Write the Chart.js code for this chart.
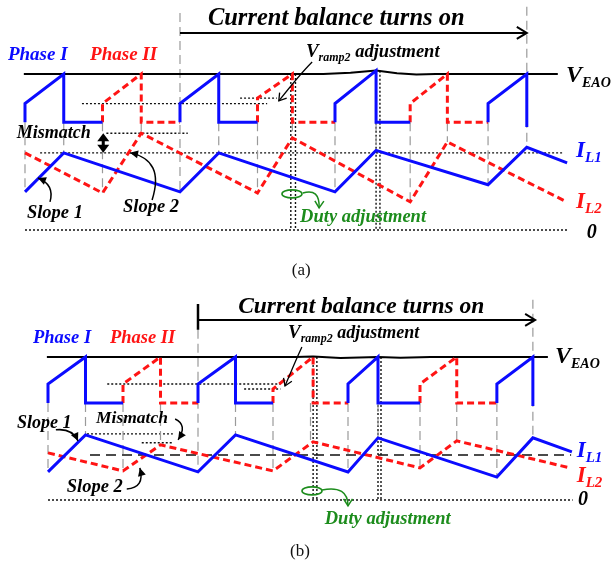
<!DOCTYPE html>
<html>
<head>
<meta charset="utf-8">
<script src="https://cdn.jsdelivr.net/npm/chart.js@4.4.1/dist/chart.umd.min.js"></script>
<style>
  body { margin: 0; background: #fff; }
  canvas { position: absolute; left: 0; }
  #panelA { top: 0; }
  #panelB { top: 285px; }
</style>
</head>
<body>
<canvas id="panelA" width="615" height="285"></canvas>
<canvas id="panelB" width="615" height="285"></canvas>
<script>
// Time axis: quarter switching periods. Levels normalised so V_EAO = 1.
// Points are [t, level]; null breaks the trace.

// ---- (a) duty adjustment only ----
const aVeao = [[-0.03, 1], [7.7, 1], [8.4, 1.008], [9.06, 1.022], [9.6, 1.004], [10.1, 0.996], [10.6, 1], [13.75, 1]];
const aRamp1 = [[0, 0.69], [0, 0.81], [1, 1], [1, 0.69], [2, 0.69], null,
  [4, 0.69], [4, 0.81], [5, 1], [5, 0.69], [6, 0.69], null,
  [8, 0.69], [8, 0.81], [9.06, 1.022], [9.06, 0.69], [9.94, 0.69], null,
  [11.95, 0.69], [11.95, 0.81], [12.95, 1], [12.95, 0.66]];
const aRamp2 = [[2, 0.69], [2, 0.81], [3, 1], [3, 0.69], [4, 0.69], null,
  [6, 0.69], [6, 0.845], [6.9, 1], [6.9, 0.69], [8, 0.69], null,
  [9.94, 0.69], [9.94, 0.81], [10.9, 1], [10.9, 0.69], [11.95, 0.69]];
const aIL1 = [[0, 0.244], [1, 0.494], [4, 0.244], [5, 0.494], [8, 0.244], [9.06, 0.51], [11.95, 0.29], [12.95, 0.53], [13.99, 0.43]];
const aIL2 = [[0, 0.494], [2, 0.237], [3, 0.62], [6, 0.237], [6.9, 0.59], [9.94, 0.18], [10.9, 0.564], [13.9, 0.19]];
// switching edges: [t, from, to]
const aEdges = [[0, 0.69, 0.244], [1, 0.69, 0.494], [2, 0.69, 0.237], [3, 0.69, 0.62], [4, 1.39, 0.244],
  [5, 0.69, 0.494], [6, 0.69, 0.237], [6.9, 0.69, 0.59], [8, 0.69, 0.244], [9.06, 0.69, 0.51],
  [9.94, 0.69, 0.18], [10.9, 0.69, 0.564], [11.95, 0.69, 0.29], [12.95, 1.43, 0.53]];
// dotted levels: [level, t0, t1]
const aLevels = [[0.81, 1.47, 6.25], [0.845, 5.55, 6.5], [0.62, 2.1, 4.2], [0.494, 0.39, 13.9], [0, 0, 13.99]];
// dotted duty markers: [t, from, to]
const aMarks = [[6.86, 1, 0], [6.98, 1, 0], [9.06, 1.02, 0], [9.16, 1.02, 0]];

// ---- (b) duty + ramp adjustment ----
const bVeao = [[-0.03, 1], [6.6, 1], [7.07, 1.003], [7.8, 0.993], [8.8, 1], [9.4, 0.995], [10.2, 1], [13.33, 1]];
const bRamp1 = [[0, 0.678], [0, 0.811], [1, 1], [1, 0.678], [2, 0.678], null,
  [4, 0.678], [4, 0.811], [5, 1], [5, 0.678], [6, 0.678], null,
  [8, 0.678], [8, 0.811], [8.8, 1], [8.8, 0.678], [9.92, 0.678], null,
  [11.97, 0.678], [11.97, 0.811], [12.93, 1], [12.93, 0.657]];
const bRamp2 = [[2, 0.678], [2, 0.811], [3, 1], [3, 0.678], [4, 0.678], null,
  [6, 0.678], [6, 0.776], [7.07, 1], [7.07, 0.678], [8, 0.678], null,
  [9.92, 0.678], [9.92, 0.811], [10.9, 1], [10.9, 0.678], [11.97, 0.678]];
const bIL1 = [[0, 0.196], [1, 0.455], [4, 0.196], [5, 0.455], [8, 0.196], [8.8, 0.434], [11.97, 0.16], [12.93, 0.434], [13.97, 0.336]];
const bIL2 = [[0, 0.329], [2, 0.203], [3, 0.385], [6, 0.203], [7.07, 0.406], [9.92, 0.224], [10.9, 0.413], [13.92, 0.224]];
const bEdges = [[0, 0.678, 0.196], [1, 0.678, 0.455], [2, 0.678, 0.203], [3, 0.678, 0.385], [4, 1.19, 0.196],
  [5, 0.678, 0.455], [6, 0.678, 0.203], [7.0, 0.678, 0.406], [8, 0.678, 0.196], [8.8, 0.678, 0.434],
  [9.92, 0.678, 0.224], [10.9, 0.678, 0.413], [11.97, 0.678, 0.16], [12.93, 1.4, 0.434]];
const bLevels = [[0.811, 1.58, 6.2], [0.776, 5.23, 6.2], [0.462, 1.04, 3.33], [0.40, 2.5, 3.33], [0, 0, 13.99]];
const bAverage = [[0.315, 1.12, 13.95]];
const bMarks = [[7.07, 1, 0], [7.17, 1, 0], [8.8, 1, 0], [8.88, 1, 0]];

const BLUE = '#0b0bff';
const RED = '#ff1414';
const GREEN = '#1c8c1c';
const SERIF = '"Liberation Serif", "DejaVu Serif", serif';

function pts(list) {
    let lastT = 0;
    return list.map(p => {
        if (p === null) return { x: lastT, y: null };
        lastT = p[0];
        return { x: p[0], y: p[1] };
    });
}

function verticals(list) {
    const out = [];
    list.forEach(v => out.push([v[0], v[1]], [v[0], v[2]], null));
    return out;
}

function horizontals(list) {
    const out = [];
    list.forEach(h => out.push([h[1], h[0]], [h[2], h[0]], null));
    return out;
}

function trace(list, color, width, dash) {
    return {
        data: pts(list),
        borderColor: color,
        borderWidth: width,
        borderDash: dash,
        borderJoinStyle: 'miter',
        pointRadius: 0,
        fill: false,
        tension: 0,
        spanGaps: false
    };
}

// ---- annotation helpers ----
function label(ctx, p, parts, color, plain) {
    let x = p[0];
    ctx.fillStyle = color;
    ctx.textBaseline = 'alphabetic';
    ctx.textAlign = 'left';
    parts.forEach(([s, size, dy]) => {
        ctx.font = (plain ? '' : 'italic bold ') + size + 'px ' + SERIF;
        ctx.fillText(s, x, p[1] + (dy || 0));
        x += ctx.measureText(s).width;
    });
}

function caption(ctx, p, s) {
    ctx.fillStyle = '#111';
    ctx.font = '17px ' + SERIF;
    ctx.textAlign = 'center';
    ctx.textBaseline = 'alphabetic';
    ctx.fillText(s, p[0], p[1]);
}

function head(ctx, from, tip, len, half, filled) {
    const a = Math.atan2(tip[1] - from[1], tip[0] - from[0]);
    const c = Math.cos(a), s = Math.sin(a);
    ctx.beginPath();
    ctx.moveTo(tip[0] - len * c + half * s, tip[1] - len * s - half * c);
    ctx.lineTo(tip[0], tip[1]);
    ctx.lineTo(tip[0] - len * c - half * s, tip[1] - len * s + half * c);
    if (filled) {
        ctx.closePath();
        ctx.fill();
    } else {
        ctx.stroke();
    }
}

function curveArrow(ctx, a, c, b, color, width, filled) {
    ctx.save();
    ctx.setLineDash([]);
    ctx.strokeStyle = color;
    ctx.fillStyle = color;
    ctx.lineWidth = width;
    ctx.beginPath();
    ctx.moveTo(a[0], a[1]);
    ctx.quadraticCurveTo(c[0], c[1], b[0], b[1]);
    ctx.stroke();
    head(ctx, c, b, filled ? 8 : 7, filled ? 4 : 4.5, filled);
    ctx.restore();
}

function straightArrow(ctx, a, b, width) {
    ctx.save();
    ctx.setLineDash([]);
    ctx.strokeStyle = '#000';
    ctx.lineWidth = width;
    ctx.beginPath();
    ctx.moveTo(a[0], a[1]);
    ctx.lineTo(b[0], b[1]);
    ctx.stroke();
    head(ctx, a, b, 10, 6, false);
    ctx.restore();
}

function doubleArrow(ctx, a, b) {
    ctx.save();
    ctx.setLineDash([]);
    ctx.strokeStyle = '#000';
    ctx.fillStyle = '#000';
    ctx.lineWidth = 3;
    ctx.beginPath();
    ctx.moveTo(a[0], a[1] + 5);
    ctx.lineTo(b[0], b[1] - 5);
    ctx.stroke();
    head(ctx, b, a, 8, 6, true);
    head(ctx, a, b, 8, 6, true);
    ctx.restore();
}

function ring(ctx, p, rx, ry) {
    ctx.save();
    ctx.setLineDash([]);
    ctx.strokeStyle = GREEN;
    ctx.lineWidth = 1.6;
    ctx.beginPath();
    ctx.ellipse(p[0], p[1], rx, ry, 0, 0, Math.PI * 2);
    ctx.stroke();
    ctx.restore();
}

function bar(ctx, a, b) {
    ctx.save();
    ctx.setLineDash([]);
    ctx.strokeStyle = '#000';
    ctx.lineWidth = 2.5;
    ctx.beginPath();
    ctx.moveTo(a[0], a[1]);
    ctx.lineTo(b[0], b[1]);
    ctx.stroke();
    ctx.restore();
}

function notesA(ctx, P) {
    label(ctx, P(4.72, 1.314), [['Current balance turns on', 24.5]], '#000');
    straightArrow(ctx, P(4, 1.263), P(12.95, 1.263), 2);
    label(ctx, P(-0.44, 1.09), [['Phase I', 19]], BLUE);
    label(ctx, P(1.68, 1.09), [['Phase II', 19]], RED);
    label(ctx, P(13.96, 0.949), [['V', 24], ['EAO', 14, 5]], '#000');
    label(ctx, P(7.25, 1.109), [['V', 19], ['ramp2', 12, 4], [' adjustment', 18.5]], '#000');
    curveArrow(ctx, P(7.41, 1.077), P(7.1, 1.0), P(6.55, 0.827), '#000', 1.3, false);
    label(ctx, P(14.22, 0.468), [['I', 23], ['L1', 15, 5]], BLUE);
    label(ctx, P(14.22, 0.141), [['I', 23], ['L2', 15, 5]], RED);
    label(ctx, P(14.5, -0.051), [['0', 20]], '#000');
    label(ctx, P(-0.21, 0.59), [['Mismatch', 18]], '#000');
    doubleArrow(ctx, P(2.02, 0.62), P(2.02, 0.494));
    label(ctx, P(0.05, 0.077), [['Slope 1', 18.5]], '#000');
    label(ctx, P(2.53, 0.115), [['Slope 2', 18.5]], '#000');
    curveArrow(ctx, P(0.645, 0.18), P(0.77, 0.29), P(0.335, 0.333), '#000', 1.5, true);
    curveArrow(ctx, P(3.28, 0.192), P(3.61, 0.449), P(2.71, 0.494), '#000', 1.5, true);
    ring(ctx, P(6.89, 0.231), 10, 4);
    curveArrow(ctx, P(7.17, 0.237), P(7.61, 0.27), P(7.59, 0.141), GREEN, 1.5, false);
    label(ctx, P(7.1, 0.051), [['Duty adjustment', 18.5]], GREEN);
    caption(ctx, P(7.13, -0.29), '(a)');
}

function notesB(ctx, P) {
    bar(ctx, P(4, 1.37), P(4, 1.19));
    label(ctx, P(5.07, 1.308), [['Current balance turns on', 23.5]], '#000');
    straightArrow(ctx, P(4, 1.259), P(12.99, 1.259), 2);
    label(ctx, P(-0.4, 1.098), [['Phase I', 18.5]], BLUE);
    label(ctx, P(1.65, 1.098), [['Phase II', 18.5]], RED);
    label(ctx, P(13.52, 0.958), [['V', 24], ['EAO', 14, 5]], '#000');
    label(ctx, P(6.4, 1.133), [['V', 19], ['ramp2', 12, 4], [' adjustment', 18]], '#000');
    curveArrow(ctx, P(6.77, 1.07), P(6.61, 0.979), P(6.32, 0.797), '#000', 1.3, false);
    label(ctx, P(14.1, 0.30), [['I', 23], ['L1', 15, 5]], BLUE);
    label(ctx, P(14.1, 0.126), [['I', 23], ['L2', 15, 5]], RED);
    label(ctx, P(14.13, -0.035), [['0', 20]], '#000');
    label(ctx, P(1.28, 0.538), [['Mismatch', 17.5]], '#000');
    curveArrow(ctx, P(3.39, 0.566), P(3.73, 0.524), P(3.47, 0.42), '#000', 1.5, true);
    label(ctx, P(-0.83, 0.503), [['Slope 1', 18]], '#000');
    curveArrow(ctx, P(0.21, 0.49), P(0.64, 0.503), P(0.8, 0.413), '#000', 1.5, true);
    label(ctx, P(0.5, 0.056), [['Slope 2', 18.5]], '#000');
    curveArrow(ctx, P(2.1, 0.077), P(2.59, 0.084), P(2.45, 0.224), '#000', 1.5, true);
    ring(ctx, P(7.04, 0.063), 10, 4);
    curveArrow(ctx, P(7.31, 0.07), P(8.0, 0.105), P(8.0, -0.042), GREEN, 1.5, false);
    label(ctx, P(7.38, -0.165), [['Duty adjustment', 18.5]], GREEN);
    caption(ctx, P(6.72, -0.39), '(b)');
}

function makePanel(id, d) {
    const notes = {
        id: 'notes',
        afterDatasetsDraw(chart) {
            const { ctx, scales: { x, y } } = chart;
            const P = (t, v) => [x.getPixelForValue(t), y.getPixelForValue(v)];
            ctx.save();
            d.notes(ctx, P);
            ctx.restore();
        }
    };

    const datasets = [
        trace(d.il1, BLUE, 3, []),
        trace(d.il2, RED, 3, [7, 4]),
        trace(d.ramp1, BLUE, 3, []),
        trace(d.ramp2, RED, 3, [7, 4]),
        trace(d.veao, '#000', 2, []),
        trace(verticals(d.edges), '#9a9a9a', 1.2, [9, 5]),
        trace(horizontals(d.levels), '#111', 1.4, [2, 2]),
        trace(verticals(d.marks), '#111', 1.4, [2, 2])
    ];
    if (d.average) {
        datasets.push(trace(horizontals(d.average), '#111', 1.5, [10, 6]));
    }

    new Chart(document.getElementById(id).getContext('2d'), {
        type: 'line',
        data: { datasets: datasets },
        options: {
            responsive: false,
            animation: false,
            events: [],
            layout: { padding: 0 },
            plugins: { legend: { display: false }, tooltip: { enabled: false } },
            scales: {
                x: { type: 'linear', display: false, min: d.xMin, max: d.xMax },
                y: { type: 'linear', display: false, min: d.yMin, max: d.yMax }
            }
        },
        plugins: [notes]
    });
}

makePanel('panelA', {
    veao: aVeao, ramp1: aRamp1, ramp2: aRamp2, il1: aIL1, il2: aIL2,
    edges: aEdges, levels: aLevels, marks: aMarks,
    xMin: -0.645, xMax: 15.226, yMin: -0.353, yMax: 1.474,
    notes: notesA
});

makePanel('panelB', {
    veao: bVeao, ramp1: bRamp1, ramp2: bRamp2, il1: bIL1, il2: bIL2,
    edges: bEdges, levels: bLevels, marks: bMarks, average: bAverage,
    xMin: -1.28, xMax: 15.12, yMin: -0.49, yMax: 1.503,
    notes: notesB
});
</script>
</body>
</html>
